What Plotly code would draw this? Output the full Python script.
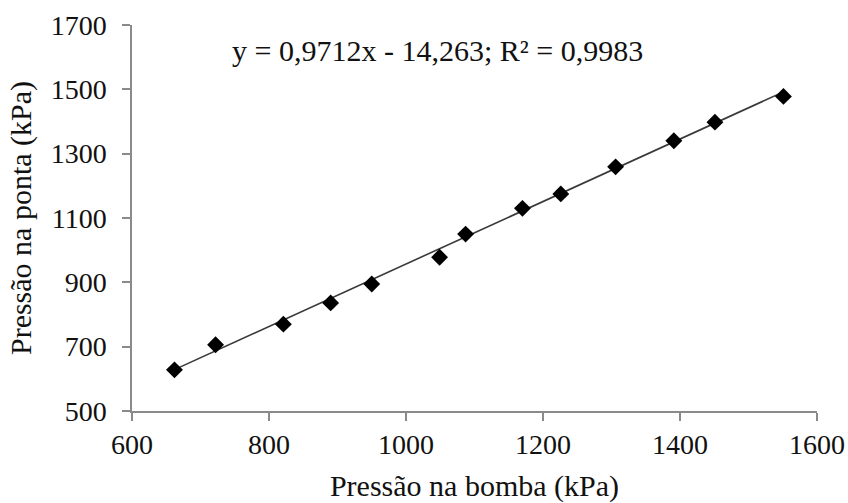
import plotly.graph_objects as go

# Pump pressure vs. nozzle pressure (kPa)
pressao_bomba = [662, 722, 821, 890, 950, 1049, 1087, 1170, 1226, 1306, 1391, 1451, 1551]
pressao_ponta = [628, 706, 770, 836, 895, 978, 1050, 1130, 1175, 1259, 1340, 1398, 1478]

# Linear fit reported on the chart
slope = 0.9712
intercept = -14.263
r2 = 0.9983

x_ticks = [600, 800, 1000, 1200, 1400, 1600]
y_ticks = [500, 700, 900, 1100, 1300, 1500, 1700]

fit_x = [min(pressao_bomba), max(pressao_bomba)]
fit_y = [slope * v + intercept for v in fit_x]

FONT = "Liberation Serif, Times New Roman, serif"
AXIS_COLOR = "#8a8a8a"
TEXT_COLOR = "#111111"

fig = go.Figure()
fig.add_trace(go.Scatter(
    x=fit_x, y=fit_y, mode="lines",
    line=dict(color="#3a3a3a", width=1.6),
    hoverinfo="skip", showlegend=False,
))
fig.add_trace(go.Scatter(
    x=pressao_bomba, y=pressao_ponta, mode="markers",
    marker=dict(symbol="diamond", size=13, color="#000000"),
    showlegend=False,
))

fmt = lambda v: f"{v:.4f}".replace(".", ",")
eq_text = (f"y = {fmt(slope)}x - {abs(intercept):.3f}".replace(".", ",")
           + f"; R² = {fmt(r2)}")
fig.add_annotation(
    x=1046, y=1620, xref="x", yref="y", text=eq_text, showarrow=False,
    font=dict(family=FONT, size=30, color=TEXT_COLOR),
)

axis_common = dict(
    showgrid=False, zeroline=False, showline=True, linecolor=AXIS_COLOR,
    linewidth=1.5, ticks="outside", ticklen=8, tickwidth=1.5, tickcolor=AXIS_COLOR,
    tickfont=dict(family=FONT, size=28, color=TEXT_COLOR),
    automargin=False,
)

fig.update_layout(
    width=848, height=503,
    margin=dict(l=132, r=31, t=25, b=92),
    paper_bgcolor="white", plot_bgcolor="white",
    xaxis=dict(
        range=[600, 1600], tickvals=x_ticks, ticktext=[str(v) for v in x_ticks],
        ticklabelstandoff=0,
        title=dict(text="Pressão na bomba (kPa)", standoff=17,
                   font=dict(family=FONT, size=30, color=TEXT_COLOR)),
        **axis_common,
    ),
    yaxis=dict(
        range=[500, 1700], tickvals=y_ticks, ticktext=[str(v) for v in y_ticks],
        ticklabelstandoff=10,
        title=dict(text="Pressão na ponta (kPa)", standoff=10,
                   font=dict(family=FONT, size=30, color=TEXT_COLOR)),
        **axis_common,
    ),
)

fig.write_html("out.html")
